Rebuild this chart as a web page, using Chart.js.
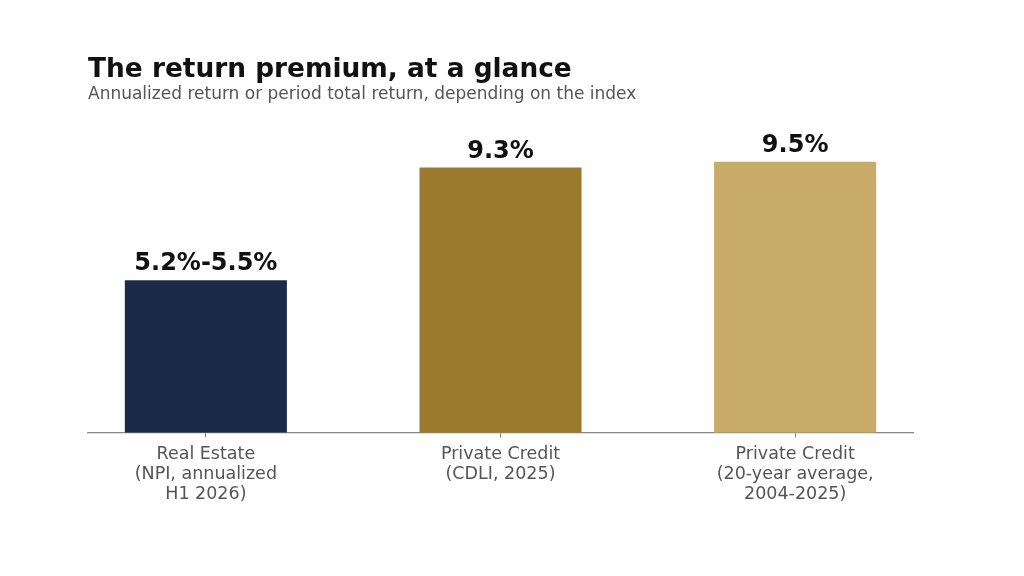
<!DOCTYPE html>
<html>
<head>
<meta charset="utf-8">
<script src="https://cdn.jsdelivr.net/npm/chart.js@4/dist/chart.umd.min.js"></script>
<style>
  html, body { margin: 0; padding: 0; background: #ffffff; }
  #wrap { width: 1024px; height: 576px; }
</style>
</head>
<body>
<div id="wrap"><canvas id="premiumChart" width="1024" height="576"></canvas></div>
<script>
// --- Data ---
const categories = [
  ["Real Estate", "(NPI, annualized", "H1 2026)"],
  ["Private Credit", "(CDLI, 2025)"],
  ["Private Credit", "(20-year average,", "2004-2025)"]
];
const returnValues = [5.35, 9.3, 9.5]; // first bar sits at the middle of its 5.2-5.5 range
const valueLabels = ["5.2%-5.5%", "9.3%", "9.5%"];
const barColors = ["#1c2a4a", "#9b7a2f", "#c8ab68"];

const FONT = "'DejaVu Sans', sans-serif";

// --- Value labels drawn above each bar ---
const valueLabelPlugin = {
  id: "valueLabels",
  afterDatasetsDraw(chart) {
    const ctx = chart.ctx;
    const meta = chart.getDatasetMeta(0);
    ctx.save();
    ctx.font = "bold 24px " + FONT;
    ctx.fillStyle = "#111111";
    ctx.textAlign = "center";
    ctx.textBaseline = "alphabetic";
    meta.data.forEach((bar, i) => {
      ctx.fillText(valueLabels[i], bar.x, bar.y - 10);
    });
    ctx.restore();
  }
};

new Chart(document.getElementById("premiumChart"), {
  type: "bar",
  data: {
    datasets: [{
      data: returnValues.map((v, i) => ({ x: i, y: v })),
      backgroundColor: barColors,
      borderWidth: 0,
      barPercentage: 0.55,
      categoryPercentage: 1.0
    }]
  },
  options: {
    responsive: false,
    animation: false,
    devicePixelRatio: 1,
    layout: { padding: { left: 88, right: 111, top: 57, bottom: 64 } },
    plugins: {
      legend: { display: false },
      tooltip: { enabled: false },
      title: {
        display: true,
        text: "The return premium, at a glance",
        align: "start",
        color: "#111111",
        font: { family: FONT, size: 26.4, weight: "bold", lineHeight: 1.03 },
        padding: { top: 0, bottom: 0 }
      },
      subtitle: {
        display: true,
        text: "Annualized return or period total return, depending on the index",
        align: "start",
        color: "#555555",
        font: { family: FONT, size: 17 },
        padding: { top: 0, bottom: 14.5 }
      }
    },
    scales: {
      x: {
        type: "linear",
        min: -0.4,
        max: 2.4,
        offset: false,
        afterBuildTicks: (axis) => {
          axis.ticks = categories.map((c, i) => ({ value: i }));
        },
        ticks: {
          callback: (value) => categories[value],
          color: "#555555",
          font: { family: FONT, size: 17.5, lineHeight: 1.15 },
          padding: 7,
          maxRotation: 0,
          autoSkip: false
        },
        grid: {
          offset: false,
          drawOnChartArea: false,
          drawTicks: true,
          tickLength: 5,
          tickColor: "#888888",
          lineWidth: 1
        },
        border: { display: true, color: "#888888", width: 1.2 }
      },
      y: {
        display: false,
        min: 0,
        max: 11
      }
    }
  },
  plugins: [valueLabelPlugin]
});
</script>
</body>
</html>
